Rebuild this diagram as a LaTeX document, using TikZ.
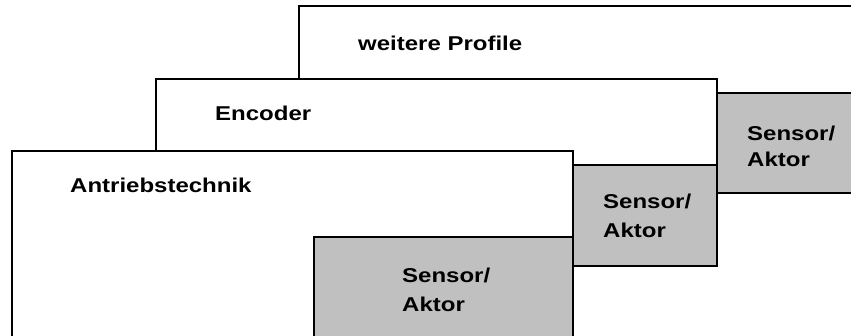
\documentclass[tikz,border=0pt]{standalone}
\usepackage{fontspec}
\setmainfont{Liberation Sans}
\definecolor{sagrey}{HTML}{C0C0C0}
\newcommand{\wlabel}[1]{\scalebox{1.2}[1]{\bfseries #1}}
\begin{document}
\begin{tikzpicture}[x=1pt,y=-1pt,
  layer/.style={draw=black,line width=1.3pt,fill=white},
  sabox/.style={draw=black,line width=1.3pt,fill=sagrey},
  lbl/.style={anchor=base west,inner sep=0pt,font=\fontsize{20}{24}\selectfont}]
\useasboundingbox (0,0) rectangle (851,335);
\clip (0,0) rectangle (851,335);
% profile layers, back to front
\draw[layer] (299,6) rectangle (870,100);
\draw[sabox] (717,93) rectangle (870,193);
\draw[layer] (156,79) rectangle (717,165);
\draw[sabox] (573,165) rectangle (717,266);
\draw[layer] (12,151) rectangle (573,350);
\draw[sabox] (314,237) rectangle (573,350);
% labels
\node[lbl] (wp) at (358,50) {\wlabel{weitere Profile}};
\node[lbl] (enc) at (215,120) {\wlabel{Encoder}};
\node[lbl] (ant) at (70,192) {\wlabel{Antriebstechnik}};
\node[lbl] (s1a) at (747,140) {\wlabel{Sensor/}};
\node[lbl] (s1b) at (747,166) {\wlabel{Aktor}};
\node[lbl] (s2a) at (603,208) {\wlabel{Sensor/}};
\node[lbl] (s2b) at (603,237) {\wlabel{Aktor}};
\node[lbl] (s3a) at (402,282) {\wlabel{Sensor/}};
\node[lbl] (s3b) at (402,311) {\wlabel{Aktor}};
\end{tikzpicture}
\end{document}
